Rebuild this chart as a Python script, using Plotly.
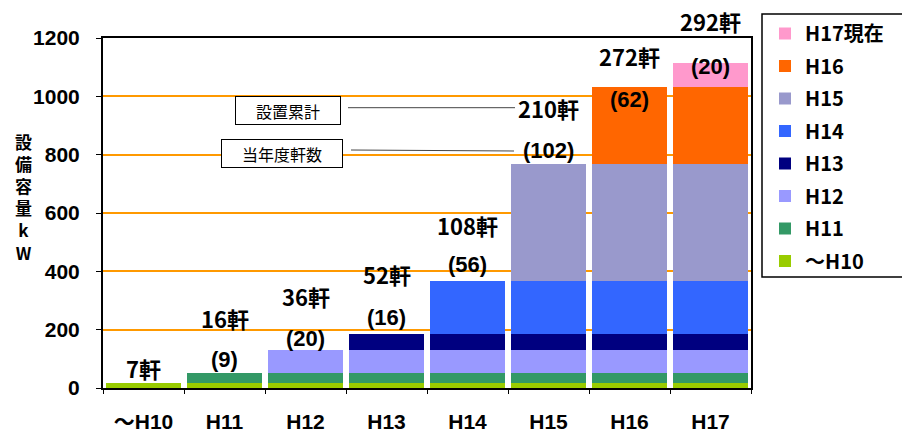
import plotly.graph_objects as go

# ---- data ----
categories = ["～H10", "H11", "H12", "H13", "H14", "H15", "H16", "H17"]
series_names = ["～H10", "H11", "H12", "H13", "H14", "H15", "H16", "H17現在"]
# capacity (kW) added in each year; appears from its year onward
added_kw = [18, 34, 79, 55, 181, 400, 265, 81]
cumulative_count = [7, 16, 36, 52, 108, 210, 272, 292]
yearly_count = [None, 9, 20, 16, 56, 102, 62, 20]
y_ticks = [0, 200, 400, 600, 800, 1000, 1200]

colors = ["#99CC00", "#339966", "#9999FF", "#000080", "#3366FF", "#9999CC", "#FF6600", "#FF99CC"]

# ---- layout geometry (pixels) ----
W, H = 902, 433
L, R, T, B = 103, 151, 38, 45
PW, PH = W - L - R, H - T - B


def px_x(px):
    return (px - L) / PW


def px_y(py):
    return (H - B - py) / PH


FONT = "Liberation Sans, Arial, Noto Sans CJK JP, sans-serif"
JFONT = "Noto Sans CJK JP, Liberation Sans, sans-serif"

fig = go.Figure()
n = len(series_names)
for i, name in enumerate(series_names):
    yvals = [added_kw[i] if j >= i else 0 for j in range(len(categories))]
    fig.add_trace(go.Bar(
        x=categories, y=yvals, name=name,
        marker=dict(color=colors[i], line=dict(width=0)),
        legendgroup=name, legendrank=(n - i) * 10,
        hoverinfo="skip",
    ))

totals = [sum(added_kw[: j + 1]) for j in range(len(categories))]

# label offsets (pixels above bar top)
paren_shift = [None, 13, 11, 16, 16, 14, -12, -3]
count_shift = [15, 55, 54, 60, 56, 56, 31, 42]

ann = []
for j, cat in enumerate(categories):
    ann.append(dict(x=cat, y=totals[j], xref="x", yref="y", text=f"{cumulative_count[j]}軒",
                    showarrow=False, yanchor="middle", yshift=count_shift[j],
                    font=dict(family=JFONT, size=22, color="black", weight="bold")))
    if yearly_count[j] is not None:
        ann.append(dict(x=cat, y=totals[j], xref="x", yref="y", text=f"({yearly_count[j]})",
                        showarrow=False, yanchor="middle", yshift=paren_shift[j],
                        font=dict(family=FONT, size=22, color="black", weight="bold")))

# y-axis title, stacked characters
ann.append(dict(x=px_x(23), y=px_y(197), xref="paper", yref="paper",
                text="設<br>備<br>容<br>量<br>k<br>W",
                showarrow=False, xanchor="center", yanchor="middle", align="center",
                font=dict(family=JFONT, size=17, color="black", weight="bold")))

# callout boxes
ann.append(dict(x=px_x(287.5), y=px_y(110.5), xref="paper", yref="paper", text="設置累計",
                xanchor="center", yanchor="middle",
                showarrow=False, width=104, height=27, borderpad=0, bordercolor="black",
                borderwidth=1, bgcolor="white",
                font=dict(family=JFONT, size=16, color="black")))
ann.append(dict(x=px_x(281.5), y=px_y(153.5), xref="paper", yref="paper", text="当年度軒数",
                xanchor="center", yanchor="middle",
                showarrow=False, width=120, height=27, borderpad=0, bordercolor="black",
                borderwidth=1, bgcolor="white",
                font=dict(family=JFONT, size=16, color="black")))

shapes = [
    dict(type="line", xref="paper", yref="paper", x0=px_x(348), y0=px_y(107.7), x1=px_x(515), y1=px_y(107.7),
         line=dict(color="#444444", width=1)),
    dict(type="line", xref="paper", yref="paper", x0=px_x(351), y0=px_y(150), x1=px_x(514), y1=px_y(151),
         line=dict(color="#444444", width=1)),
    dict(type="rect", xref="paper", yref="paper", x0=px_x(762), y0=px_y(14), x1=px_x(905), y1=px_y(277),
         line=dict(color="black", width=1.5), fillcolor="rgba(0,0,0,0)", layer="above"),
]

fig.update_layout(
    width=W, height=H,
    margin=dict(l=L, r=R, t=T, b=B, autoexpand=False),
    barmode="stack", bargap=0.075,
    plot_bgcolor="white", paper_bgcolor="white",
    font=dict(family=FONT, size=20, color="black"),
    showlegend=True,
    legend=dict(
        x=px_x(765), y=px_y(281), xanchor="left", yanchor="bottom",
        traceorder="grouped", bgcolor="rgba(0,0,0,0)", borderwidth=0,
        font=dict(family=JFONT, size=20, color="black", weight="bold"),
        tracegroupgap=3.5, itemclick=False, itemdoubleclick=False,
    ),
    annotations=ann,
    shapes=shapes,
    xaxis=dict(
        type="category", showline=True, linecolor="black", linewidth=2, mirror=True,
        ticks="outside", tickson="boundaries", ticklen=4, tickcolor="black",
        tickfont=dict(family=FONT, size=21, color="black", weight="bold"),
        ticklabelstandoff=14, showgrid=False,
    ),
    yaxis=dict(
        range=[0, 1200], tickvals=y_ticks, showline=True, linecolor="black", linewidth=2, mirror=True,
        ticks="outside", ticklen=5, tickcolor="black",
        gridcolor="#FF9900", gridwidth=1.5,
        tickfont=dict(family=FONT, size=21, color="black", weight="bold"),
        ticklabelstandoff=12, zeroline=False,
    ),
)

fig.write_html("out.html")
